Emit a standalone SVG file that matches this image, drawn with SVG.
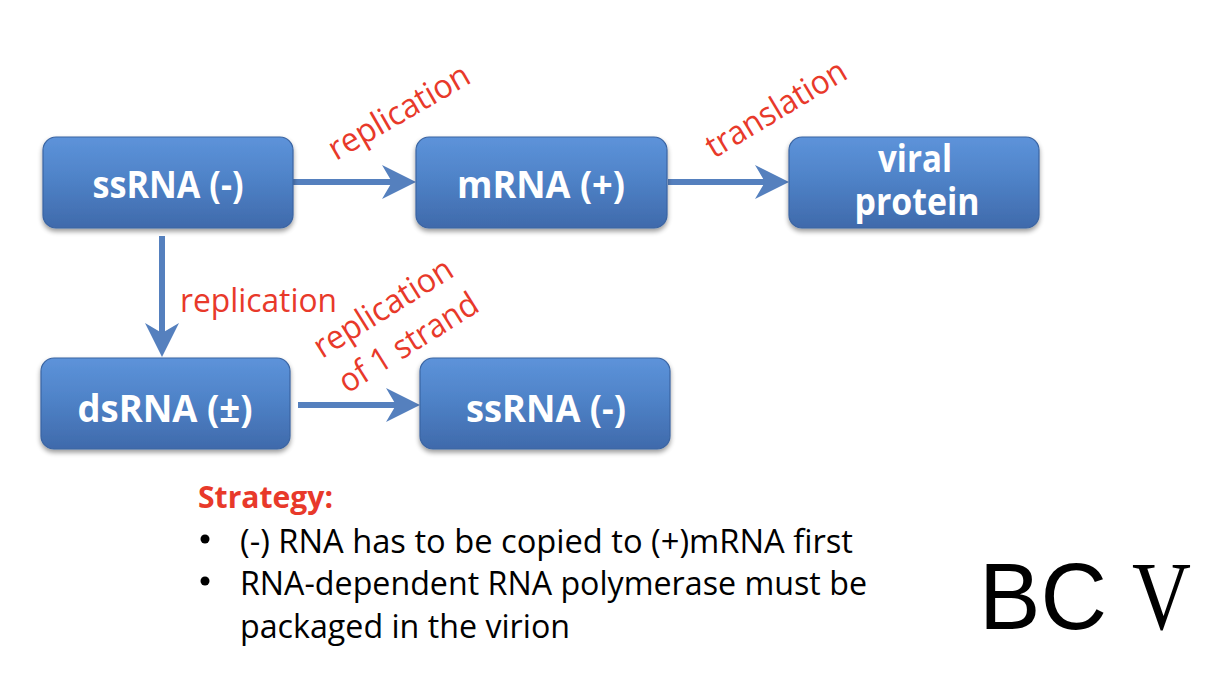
<svg xmlns="http://www.w3.org/2000/svg" width="1224" height="684" viewBox="0 0 1224 684">
<style>
.box{fill:url(#bg);stroke:#3a64a2;stroke-width:1.2;filter:url(#sh)}
.bt{font-family:"Open Sans","Liberation Sans",sans-serif;font-weight:bold;font-size:38px;fill:#ffffff;text-anchor:middle}
.lbl{font-family:"Open Sans","Liberation Sans",sans-serif;font-size:33px;fill:#e8392a}
.body{font-family:"Open Sans","Liberation Sans",sans-serif;font-size:33px;fill:#000000}
.conn{fill:none;stroke:#5580be;stroke-width:6;marker-end:url(#ah)}
</style>
<defs>
<linearGradient id="bg" x1="0" y1="0" x2="0" y2="1">
<stop offset="0" stop-color="#5d93da"/>
<stop offset="0.45" stop-color="#4f83c8"/>
<stop offset="1" stop-color="#3f6aab"/>
</linearGradient>
<filter id="sh" x="-10%" y="-10%" width="120%" height="130%">
<feGaussianBlur in="SourceAlpha" stdDeviation="2.5"/>
<feOffset dy="3" result="b"/>
<feComponentTransfer><feFuncA type="linear" slope="0.4"/></feComponentTransfer>
<feMerge><feMergeNode/><feMergeNode in="SourceGraphic"/></feMerge>
</filter>
<marker id="ah" markerUnits="userSpaceOnUse" viewBox="-24 -18 38 36" markerWidth="38" markerHeight="36" refX="0" refY="0" orient="auto">
<path d="M12,0 L-22,-17 L-12,0 L-22,17 Z" fill="#5580be"/>
</marker>
</defs>
<rect width="1224" height="684" fill="#ffffff"/>

<g id="connectors">
<path class="conn" d="M293,182 H404"/>
<path class="conn" d="M668,182 H777"/>
<path class="conn" d="M162,236 V345"/>
<path class="conn" d="M298,405 H408"/>
</g>

<g id="n-ssRNA-top">
<rect class="box" x="43" y="137" width="250" height="91" rx="13"/>
<text class="bt" x="168" y="198" textLength="151" lengthAdjust="spacingAndGlyphs">ssRNA (-)</text>
</g>
<g id="n-mRNA">
<rect class="box" x="416" y="137" width="251" height="91" rx="13"/>
<text class="bt" x="541" y="198" textLength="168" lengthAdjust="spacingAndGlyphs">mRNA (+)</text>
</g>
<g id="n-viral-protein">
<rect class="box" x="789" y="137" width="250" height="91" rx="13"/>
<text class="bt" x="915" y="172" textLength="74" lengthAdjust="spacingAndGlyphs">viral</text>
<text class="bt" x="917" y="215" textLength="125" lengthAdjust="spacingAndGlyphs">protein</text>
</g>
<g id="n-dsRNA">
<rect class="box" x="41" y="358" width="249" height="91" rx="13"/>
<text class="bt" x="165" y="422" textLength="175" lengthAdjust="spacingAndGlyphs">dsRNA (±)</text>
</g>
<g id="n-ssRNA-bottom">
<rect class="box" x="420" y="358" width="250" height="91" rx="13"/>
<text class="bt" x="546" y="422" textLength="160" lengthAdjust="spacingAndGlyphs">ssRNA (-)</text>
</g>

<g id="labels">
<text class="lbl" transform="translate(336,161) rotate(-30)" textLength="158" lengthAdjust="spacingAndGlyphs">replication</text>
<text class="lbl" transform="translate(714,159) rotate(-31)" textLength="158" lengthAdjust="spacingAndGlyphs">translation</text>
<text class="lbl" x="180" y="312" textLength="157" lengthAdjust="spacingAndGlyphs">replication</text>
<g transform="translate(322,359) rotate(-32)">
<text class="lbl" x="0" y="0" textLength="158" lengthAdjust="spacingAndGlyphs">replication</text>
<text class="lbl" x="3" y="43" textLength="158" lengthAdjust="spacingAndGlyphs">of 1 strand</text>
</g>
</g>

<g id="strategy">
<text x="198" y="508" font-family="'Open Sans','Liberation Sans',sans-serif" font-weight="bold" font-size="30" fill="#e8392a" textLength="135" lengthAdjust="spacingAndGlyphs">Strategy:</text>
<circle cx="205" cy="539" r="4.5" fill="#000000"/>
<circle cx="205" cy="581" r="4.5" fill="#000000"/>
<text class="body" x="240" y="553" textLength="613" lengthAdjust="spacingAndGlyphs">(-) RNA has to be copied to (+)mRNA first</text>
<text class="body" x="240" y="595" textLength="627" lengthAdjust="spacingAndGlyphs">RNA-dependent RNA polymerase must be</text>
<text class="body" x="240" y="638" textLength="330" lengthAdjust="spacingAndGlyphs">packaged in the virion</text>
</g>

<g id="title">
<text x="979" y="629" font-size="94" fill="#000000" font-family="'Liberation Sans',Arial,sans-serif" textLength="128" lengthAdjust="spacingAndGlyphs">BC</text>
<text x="1132" y="629" font-size="97" fill="#000000" font-family="'Liberation Serif','Times New Roman',serif" textLength="59" lengthAdjust="spacingAndGlyphs">V</text>
</g>
</svg>
